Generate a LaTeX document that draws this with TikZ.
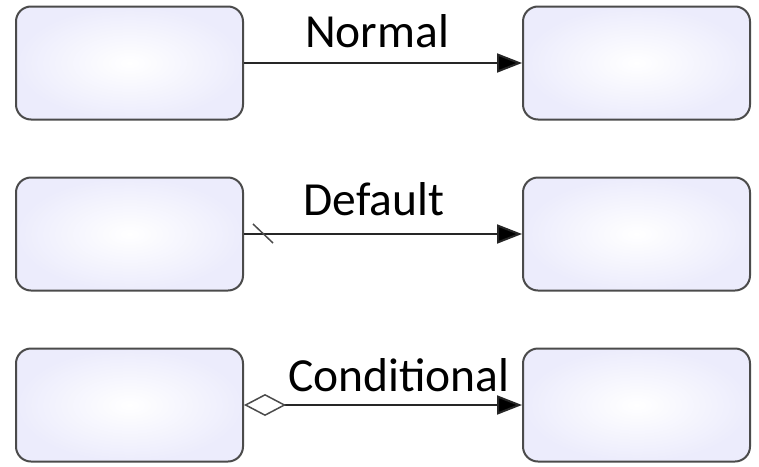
\documentclass[tikz,border=0pt]{standalone}
\usepackage{fontspec}
\setmainfont{Carlito}
\usetikzlibrary{arrows.meta}
\definecolor{boxfill}{RGB}{236,236,252}
\definecolor{boxline}{RGB}{75,75,75}
\tikzset{
  activity/.style={draw=boxline, line width=2pt, rounded corners=15pt,
    minimum width=227pt, minimum height=113pt, inner sep=0pt,
    inner color=white, outer color=boxfill},
  flowlabel/.style={font=\fontsize{47.5}{56}\selectfont, anchor=base, inner sep=0pt},
  flow/.style={draw=black!85, line width=2pt, -{Triangle[length=25pt,width=19pt,fill=black]}},
}
\begin{document}
\begin{tikzpicture}[x=1pt,y=-1pt]
      \useasboundingbox (0,0) rectangle (759,466);
      \draw
        (129.5,63) node[activity] (a1){}
        (636.5,63) node[activity] (b1){}
        (129.5,234) node[activity] (a2){}
        (636.5,234) node[activity] (b2){}
        (129.5,405) node[activity] (a3){}
        (636.5,405) node[activity] (b3){};
      \node[flowlabel] (normal) at (377,47) {Normal};
      \node[flowlabel] (default) at (374,215) {Default};
      \node[flowlabel] (conditional) at (399,391) {Conditional};
      \begin{scope}[flow]
        \draw (a1) to (b1);
        \draw (a2) to (b2);
        \draw[{Diamond[open,length=42pt,width=22pt,line width=1.5pt,color=boxline]}-{Triangle[length=25pt,width=19pt,fill=black]}] (a3) to (b3);
      \end{scope}
      \draw[boxline, line width=1.5pt] ([shift={(9,-10)}]a2.east) -- ([shift={(29,9)}]a2.east);
    \end{tikzpicture}
\end{document}
